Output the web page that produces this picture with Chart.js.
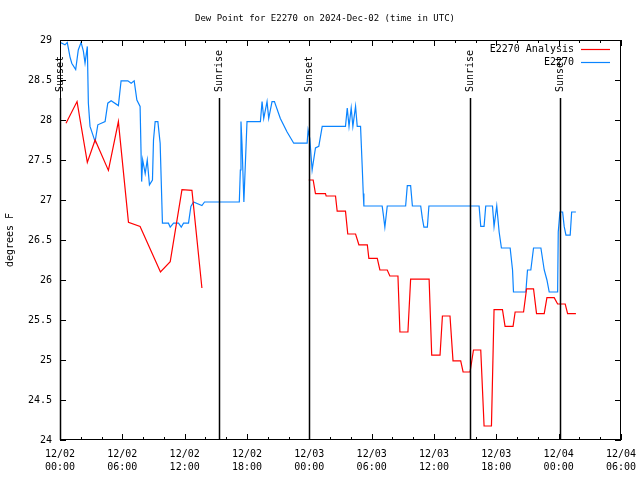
<!DOCTYPE html>
<html>
<head>
<meta charset="utf-8">
<title>Dew Point for E2270</title>
<script src="https://cdn.jsdelivr.net/npm/chart.js@4.4.1/dist/chart.umd.min.js"></script>
<style>
  html, body { margin: 0; padding: 0; background: #fff; }
  #wrap { width: 640px; height: 480px; }
</style>
</head>
<body>
<div id="wrap"><canvas id="dew" width="640" height="480"></canvas></div>
<script>
// hours since 2024-12-02 00:00 UTC
const analysisHours = [0.58, 1.64, 2.63, 3.38, 4.66, 5.62, 6.59, 7.71, 9.67, 10.61, 11.74, 12.70, 13.66, 18.0,
  23.94, 24.37, 24.59, 25.55, 25.62, 26.52, 26.68, 27.48, 27.70, 28.45, 28.77, 29.58, 29.73, 30.54, 30.79, 31.50,
  31.75, 32.53, 32.72, 33.49, 33.75, 35.53, 35.78, 36.58, 36.81, 37.54, 37.83, 38.57, 38.80, 39.47, 39.80, 40.50,
  40.82, 41.53, 41.78, 42.59, 42.84, 43.61, 43.81, 44.62, 44.91, 45.58, 45.87, 46.61, 46.87, 47.57, 47.90, 48.63,
  48.86, 49.66];
const analysisDew = [27.96, 28.23, 27.47, 27.75, 27.37, 27.98, 26.72, 26.67, 26.10, 26.23, 27.13, 27.12, 25.90, null,
  27.25, 27.25, 27.08, 27.08, 27.05, 27.05, 26.86, 26.86, 26.575, 26.575, 26.44, 26.44, 26.27, 26.27, 26.125, 26.125,
  26.05, 26.05, 25.35, 25.35, 26.01, 26.01, 25.06, 25.06, 25.55, 25.55, 24.99, 24.99, 24.85, 24.85, 25.125, 25.125,
  24.175, 24.175, 25.63, 25.63, 25.42, 25.42, 25.60, 25.60, 25.89, 25.89, 25.58, 25.58, 25.78, 25.78, 25.70, 25.70,
  25.58, 25.58];

const stationHours = [0.0, 0.48, 0.70, 0.96, 1.13, 1.51, 1.76, 2.03, 2.25, 2.41, 2.63, 2.73, 2.89, 3.38, 3.64, 4.34,
  4.60, 4.92, 5.62, 5.88, 6.53, 6.85, 7.14, 7.40, 7.71, 7.86, 7.96, 8.20, 8.40, 8.61, 8.90, 9.00, 9.16, 9.42, 9.64,
  9.81, 9.86, 10.44, 10.61, 10.93, 11.41, 11.67, 11.89, 12.37, 12.60, 12.85, 13.66, 13.91, 17.26, 17.36, 17.42,
  17.52, 17.70, 18.00, 19.29, 19.45, 19.61, 19.93, 20.09, 20.41, 20.64, 21.21, 21.86, 22.50, 23.79, 23.88, 24.04,
  24.27, 24.59, 24.91, 25.24, 27.48, 27.65, 27.82, 28.03, 28.19, 28.45, 28.61, 28.93, 29.09, 29.19, 29.25, 31.01,
  31.11, 31.27, 31.50, 33.27, 33.43, 33.75, 33.92, 34.72, 34.88, 35.03, 35.36, 35.51, 40.34, 40.50, 40.82, 40.98,
  41.63, 41.78, 42.04, 42.27, 42.49, 43.33, 43.56, 43.65, 44.84, 45.00, 45.32, 45.58, 46.29, 46.61, 46.87, 47.09,
  47.90, 47.96, 48.12, 48.38, 48.53, 48.70, 49.11, 49.25, 49.66];
const stationDew = [28.97, 28.94, 28.97, 28.79, 28.71, 28.63, 28.875, 28.97, 28.86, 28.71, 28.92, 28.21, 27.92, 27.73,
  27.94, 27.98, 28.21, 28.24, 28.18, 28.49, 28.49, 28.46, 28.49, 28.25, 28.17, 27.23, 27.50, 27.33, 27.50, 27.19,
  27.25, 27.75, 27.98, 27.98, 27.71, 26.94, 26.71, 26.71, 26.66, 26.71, 26.71, 26.66, 26.71, 26.71, 26.92, 26.975,
  26.93, 26.975, 26.975, 27.375, 27.98, 27.70, 26.975, 27.98, 27.98, 28.23, 28.02, 28.23, 28.02, 28.23, 28.23, 28.02,
  27.85, 27.71, 27.71, 27.875, 27.77, 27.375, 27.65, 27.67, 27.92, 27.92, 28.15, 27.92, 28.15, 27.92, 28.17, 27.92,
  27.92, 27.42, 27.08, 26.925, 26.925, 26.83, 26.66, 26.925, 26.925, 27.18, 27.18, 26.925, 26.925, 26.77, 26.66,
  26.66, 26.925, 26.925, 26.67, 26.67, 26.925, 26.925, 26.67, 26.925, 26.60, 26.40, 26.40, 26.125, 25.85, 25.85,
  26.125, 26.125, 26.40, 26.40, 26.125, 26.0, 25.85, 25.85, 26.60, 26.85, 26.85, 26.67, 26.56, 26.56, 26.85, 26.85];

const eventHours = [0.0, 15.3, 24.0, 39.47, 48.15];
const eventLabels = ['Sunset', 'Sunrise', 'Sunset', 'Sunrise', 'Sunset'];

const xTickDates = ['12/02', '12/02', '12/02', '12/02', '12/03', '12/03', '12/03', '12/03', '12/04', '12/04'];
const xTickTimes = ['00:00', '06:00', '12:00', '18:00', '00:00', '06:00', '12:00', '18:00', '00:00', '06:00'];

const FONT = "'DejaVu Sans Mono', 'Liberation Mono', monospace";

function points(xs, ys) {
  return xs.map((x, i) => ({ x: x, y: ys[i] }));
}

const frameAndMarks = {
  id: 'frameAndMarks',
  afterDatasetsDraw(chart) {
    const { ctx, chartArea: a, scales } = chart;
    const x = scales.x;
    const y = scales.y;
    ctx.save();

    // sunrise / sunset markers
    ctx.strokeStyle = '#000';
    ctx.lineWidth = 1.5;
    ctx.fillStyle = '#000';
    ctx.font = '10px ' + FONT;
    eventHours.forEach((h, i) => {
      const px = Math.round(x.getPixelForValue(h)) + 0.5;
      ctx.beginPath();
      ctx.moveTo(px, a.top + 58);
      ctx.lineTo(px, a.bottom);
      ctx.stroke();
      ctx.save();
      ctx.translate(px, a.top + 52);
      ctx.rotate(-Math.PI / 2);
      ctx.textAlign = 'left';
      ctx.textBaseline = 'middle';
      ctx.fillText(eventLabels[i], 0, 0);
      ctx.restore();
    });

    // border
    ctx.lineWidth = 1;
    ctx.strokeRect(a.left + 0.5, a.top + 0.5, a.right - a.left - 1, a.bottom - a.top - 1);

    // inward ticks
    ctx.beginPath();
    for (let h = 0; h <= 54; h += 2) {
      const px = Math.round(x.getPixelForValue(h)) + 0.5;
      const len = h % 6 === 0 ? 6 : 3;
      ctx.moveTo(px, a.bottom);
      ctx.lineTo(px, a.bottom - len);
      ctx.moveTo(px, a.top);
      ctx.lineTo(px, a.top + len);
    }
    for (let v = 24; v <= 29; v += 0.5) {
      const py = Math.round(y.getPixelForValue(v)) + 0.5;
      ctx.moveTo(a.left, py);
      ctx.lineTo(a.left + 6, py);
      ctx.moveTo(a.right, py);
      ctx.lineTo(a.right - 6, py);
    }
    ctx.stroke();

    // title
    ctx.font = '9px ' + FONT;
    ctx.textAlign = 'center';
    ctx.textBaseline = 'middle';
    ctx.fillText('Dew Point for E2270 on 2024-Dec-02 (time in UTC)', 325, 19);

    // y axis title
    ctx.font = '10px ' + FONT;
    ctx.save();
    ctx.translate(10, (a.top + a.bottom) / 2);
    ctx.rotate(-Math.PI / 2);
    ctx.fillText('degrees F', 0, 0);
    ctx.restore();

    // legend
    const entries = chart.data.datasets;
    entries.forEach((ds, i) => {
      const ly = a.top + 9.5 + i * 13;
      ctx.fillStyle = '#000';
      ctx.textAlign = 'right';
      ctx.fillText(ds.label, a.right - 47, ly);
      ctx.strokeStyle = ds.borderColor;
      ctx.lineWidth = 1.2;
      ctx.beginPath();
      ctx.moveTo(a.right - 40, ly);
      ctx.lineTo(a.right - 11, ly);
      ctx.stroke();
    });

    ctx.restore();
  }
};

new Chart(document.getElementById('dew').getContext('2d'), {
  type: 'line',
  data: {
    datasets: [
      {
        label: 'E2270 Analysis',
        data: points(analysisHours, analysisDew),
        borderColor: '#ff0000',
        borderWidth: 1.2,
        pointRadius: 0,
        tension: 0,
        spanGaps: false
      },
      {
        label: 'E2270',
        data: points(stationHours, stationDew),
        borderColor: '#0a84ff',
        borderWidth: 1.2,
        pointRadius: 0,
        tension: 0
      }
    ]
  },
  options: {
    responsive: false,
    animation: false,
    layout: { padding: { top: 40, right: 19, bottom: 0, left: 0 } },
    plugins: { legend: { display: false }, title: { display: false }, tooltip: { enabled: false } },
    scales: {
      x: {
        type: 'linear',
        min: 0,
        max: 54,
        afterFit: (s) => { s.height = 40; s.paddingLeft = 0; s.paddingRight = 0; },
        grid: { display: false, drawTicks: false },
        border: { display: false },
        ticks: {
          stepSize: 6,
          autoSkip: false,
          maxRotation: 0,
          padding: 8,
          color: '#000',
          font: { family: FONT, size: 10, lineHeight: 1.3 },
          callback: (v, i) => [xTickDates[i], xTickTimes[i]]
        }
      },
      y: {
        min: 24,
        max: 29,
        afterFit: (s) => { s.width = 60; s.paddingTop = 0; s.paddingBottom = 0; },
        grid: { display: false, drawTicks: false },
        border: { display: false },
        ticks: {
          stepSize: 0.5,
          padding: 8,
          color: '#000',
          font: { family: FONT, size: 10 },
          callback: (v) => String(v)
        }
      }
    }
  },
  plugins: [frameAndMarks]
});
</script>
</body>
</html>
